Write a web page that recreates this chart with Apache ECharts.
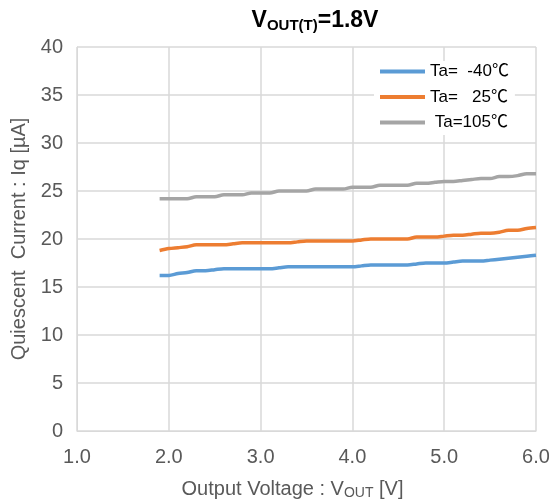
<!DOCTYPE html>
<html>
<head>
<meta charset="utf-8">
<script src="https://cdn.jsdelivr.net/npm/echarts@6/dist/echarts.min.js"></script>
<style>
  html, body { margin: 0; padding: 0; background: #fff; }
  #chart { width: 549px; height: 503px; }
</style>
</head>
<body>
<div id="chart"></div>
<script>
// output voltage, 0.1 V steps from 1.9 to 6.0
const vout = [1.9, 2.0, 2.1, 2.2, 2.3, 2.4, 2.5, 2.6, 2.7, 2.8, 2.9, 3.0, 3.1, 3.2, 3.3, 3.4, 3.5, 3.6, 3.7, 3.8, 3.9,
  4.0, 4.1, 4.2, 4.3, 4.4, 4.5, 4.6, 4.7, 4.8, 4.9, 5.0, 5.1, 5.2, 5.3, 5.4, 5.5, 5.6, 5.7, 5.8, 5.9, 6.0];

const iqMinus40 = [16.2, 16.2, 16.4, 16.5, 16.7, 16.7, 16.8, 16.9, 16.9, 16.9, 16.9, 16.9, 16.9, 17.0, 17.1, 17.1, 17.1,
  17.1, 17.1, 17.1, 17.1, 17.1, 17.2, 17.3, 17.3, 17.3, 17.3, 17.3, 17.4, 17.5, 17.5, 17.5, 17.6, 17.7, 17.7, 17.7,
  17.8, 17.9, 18.0, 18.1, 18.2, 18.3];
const iq25 = [18.8, 19.0, 19.1, 19.2, 19.4, 19.4, 19.4, 19.4, 19.5, 19.6, 19.6, 19.6, 19.6, 19.6, 19.6, 19.7, 19.8,
  19.8, 19.8, 19.8, 19.8, 19.8, 19.9, 20.0, 20.0, 20.0, 20.0, 20.0, 20.2, 20.2, 20.2, 20.3, 20.4, 20.4, 20.5, 20.6,
  20.6, 20.7, 20.9, 20.9, 21.1, 21.2];
const iq105 = [24.2, 24.2, 24.2, 24.2, 24.4, 24.4, 24.4, 24.6, 24.6, 24.6, 24.8, 24.8, 24.8, 25.0, 25.0, 25.0, 25.0,
  25.2, 25.2, 25.2, 25.2, 25.4, 25.4, 25.4, 25.6, 25.6, 25.6, 25.6, 25.8, 25.8, 25.9, 26.0, 26.0, 26.1, 26.2, 26.3,
  26.3, 26.5, 26.5, 26.6, 26.8, 26.8];

const seriesNames = ['Ta=  -40℃', 'Ta=   25℃', ' Ta=105℃'];
const seriesColors = ['#5b9bd5', '#ed7d31', '#a5a5a5'];
const seriesValues = [iqMinus40, iq25, iq105];

const font = '"Liberation Sans", Arial, "Noto Sans CJK JP", sans-serif';
const textColor = '#595959';
const gridColor = '#d9d9d9';

const chart = echarts.init(document.getElementById('chart'));

chart.setOption({
  animation: false,
  textStyle: { fontFamily: font },
  title: {
    text: '{v|V}{s|OUT(T)}{v|=1.8V}',
    left: 310,
    top: 3,
    textAlign: 'center',
    textStyle: {
      rich: {
        v: { fontSize: 23, fontWeight: 'bold', color: '#000', fontFamily: font },
        s: { fontSize: 15, fontWeight: 'bold', color: '#000', fontFamily: font, padding: [10, 0, 0, 0] },
      },
    },
  },
  legend: {
    left: 374,
    top: 61,
    orient: 'vertical',
    align: 'left',
    backgroundColor: '#fff',
    padding: [2, 6, 4, 6],
    itemGap: 8.5,
    itemWidth: 45,
    itemHeight: 4,
    icon: 'rect',
    textStyle: { fontSize: 17, color: '#000', fontFamily: font, padding: [0, 14, 0, 0] },
    data: seriesNames,
  },
  grid: { left: 77, right: 13, top: 47, bottom: 72, outerBoundsMode: 'none' },
  xAxis: {
    type: 'value',
    min: 1,
    max: 6,
    interval: 1,
    name: '{n|Output Voltage : V}{s|OUT}{n| [V]}',
    nameLocation: 'middle',
    nameGap: 47,
    nameTextStyle: {
      padding: [0, 28, 0, 0],
      rich: {
        n: { fontSize: 20, color: textColor, fontFamily: font },
        s: { fontSize: 14, color: textColor, fontFamily: font, padding: [8, 0, 0, 0] },
      },
    },
    axisLine: { lineStyle: { color: gridColor, width: 1 } },
    axisTick: { show: false },
    axisLabel: { fontSize: 20, color: textColor, margin: 16, formatter: (v) => v.toFixed(1) },
    splitLine: { show: true, lineStyle: { color: gridColor, width: 1.5 } },
  },
  yAxis: {
    type: 'value',
    min: 0,
    max: 40,
    interval: 5,
    name: 'Quiescent  Current : Iq [µA]',
    nameLocation: 'middle',
    nameGap: 46,
    nameTextStyle: { fontSize: 20, color: textColor },
    axisLine: { show: true, lineStyle: { color: gridColor, width: 1 } },
    axisTick: { show: false },
    axisLabel: { fontSize: 20, color: textColor, margin: 14 },
    splitLine: { show: true, lineStyle: { color: gridColor, width: 1.5 } },
  },
  series: seriesNames.map((name, i) => ({
    name,
    type: 'line',
    data: vout.map((v, j) => [v, seriesValues[i][j]]),
    showSymbol: false,
    smooth: 0.3,
    color: seriesColors[i],
    lineStyle: { width: 3.5, color: seriesColors[i] },
  })),
});
</script>
</body>
</html>
